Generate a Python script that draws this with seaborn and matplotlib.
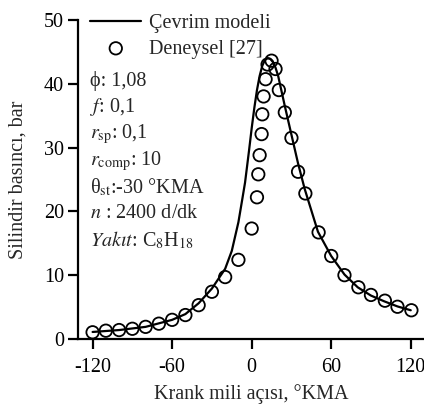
import matplotlib
matplotlib.use("Agg")
import matplotlib.pyplot as plt
import seaborn as sns
import pandas as pd

# model curve (Çevrim modeli)
model_angle = [-120, -100, -80, -60, -50, -40, -30, -20, -15, -10, -7, -5, -2, 0,
               2, 4, 6, 8, 10, 12, 14, 16, 18, 20, 25, 30, 35, 40, 50, 60, 70,
               80, 90, 100, 110, 120]
model_p = [1.1, 1.4, 1.9, 3.0, 3.9, 5.6, 7.9, 11.0, 13.8, 18.3, 22.0, 24.5, 29.5, 33.0,
           36.2, 39.0, 41.2, 42.8, 43.7, 44.0, 43.9, 43.4, 42.5, 41.2, 36.5, 32.0, 27.5, 23.5,
           16.8, 13.0, 10.1, 8.1, 6.8, 5.9, 5.1, 4.5]

# experimental data (Deneysel [27])
exp_angle = [-120, -110, -100, -90, -80, -70, -60, -50, -40, -30, -20, -10, 0,
             4, 5, 6, 7.5, 8, 9, 10.5, 12, 15, 18, 20.5, 25, 30, 35, 40.5,
             50.5, 60, 70, 80.5, 90, 100.5, 110, 120.5]
exp_p = [1.05, 1.3, 1.4, 1.6, 1.9, 2.4, 3.0, 3.75, 5.3, 7.4, 9.7, 12.4, 17.3,
         22.2, 25.8, 28.8, 32.1, 35.2, 38.0, 40.7, 43.0, 43.6, 42.3, 39.0, 35.5, 31.5, 26.2, 22.8,
         16.7, 13.0, 10.0, 8.1, 6.9, 6.0, 5.05, 4.5]

params = ["ϕ: 1,08",
          r"$f$: 0,1",
          r"$r_{\mathrm{sp}}$: 0,1",
          r"$r_{\mathrm{comp}}$: 10",
          r"θ$_{\mathrm{st}}$:-30 °KMA",
          r"$n$ : 2400 d/dk",
          r"$Yak\imath t$: C$_{8}$H$_{18}$"]

sns.set_style("ticks")
plt.rcParams["font.family"] = ["Liberation Serif", "DejaVu Serif"]
plt.rcParams["mathtext.fontset"] = "stix"
plt.rcParams["axes.unicode_minus"] = False
fs = 14.5

fig = plt.figure(figsize=(4.24, 4.05), dpi=100)
ax = fig.add_axes([0.184, 0.163, 0.816, 0.788])

model = pd.DataFrame({"angle": model_angle, "p": model_p})
exp = pd.DataFrame({"angle": exp_angle, "p": exp_p})

sns.lineplot(data=model, x="angle", y="p", ax=ax, color="black", linewidth=1.6,
             label="Çevrim modeli")
sns.scatterplot(data=exp, x="angle", y="p", ax=ax, marker="o", s=80,
                facecolor="none", edgecolor="black", linewidth=1.3,
                label="Deneysel [27]", zorder=3)

ax.set_xlim(-131, 130)
ax.set_ylim(0, 50)
ax.set_xticks([-120, -60, 0, 60, 120])
ax.set_yticks([0, 10, 20, 30, 40, 50])
ax.set_xlabel("Krank mili açısı, °KMA", fontsize=fs, labelpad=5)
ax.set_ylabel("Silindir basıncı, bar", fontsize=fs, labelpad=12)
ax.tick_params(direction="out", length=7, width=1.6, labelsize=fs, colors="black", pad=3)
ax.tick_params(axis="x", pad=6.5)
for s in ["left", "bottom"]:
    ax.spines[s].set_linewidth(1.6)
    ax.spines[s].set_color("black")
sns.despine(ax=ax)

leg = ax.legend(loc="upper left", bbox_to_anchor=(0.0, 1.055), frameon=False,
                handlelength=2.55, handletextpad=0.35, labelspacing=0.3, fontsize=fs,
                borderaxespad=0.2)

for i, t in enumerate(params):
    ax.text(0.035, 0.809 - i * 0.0834, t, transform=ax.transAxes, fontsize=fs,
            va="center", ha="left")

fig.savefig("out.png", dpi=100)
